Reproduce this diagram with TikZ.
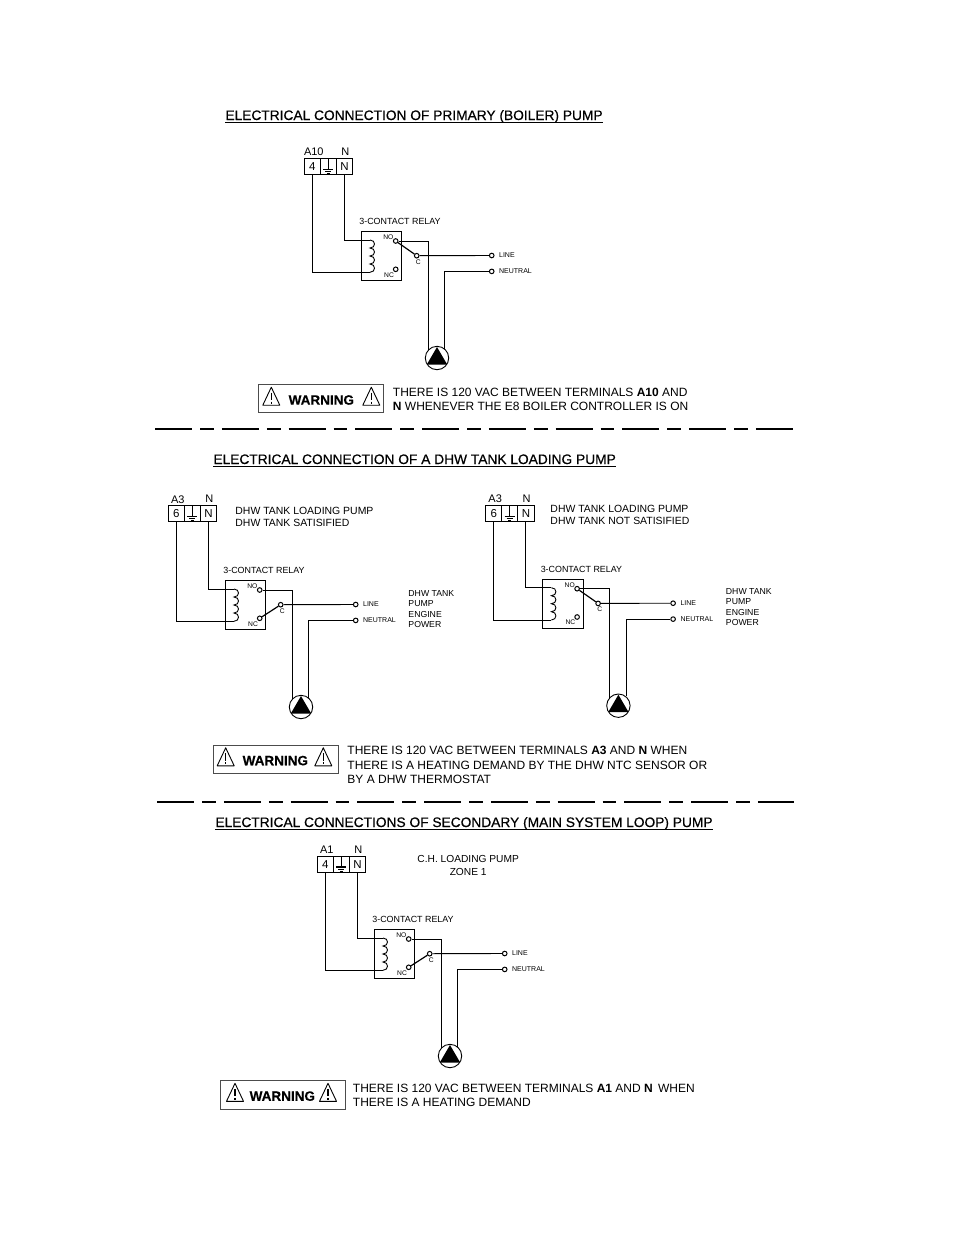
\documentclass[tikz,border=0pt]{standalone}
\usepackage{fontspec}
\setmainfont{Liberation Sans}
\newfontfamily\titlefont[FakeBold=0.5]{Liberation Sans}
\newfontfamily\warnfont[FakeBold=0.4]{Liberation Sans Bold}

\begin{document}
\begin{tikzpicture}[x = 1pt, y = -1pt, line width = 0.9pt,
	txt/.style = {inner sep = 0pt, font = \fontsize{#1}{#1}\selectfont},
	titletext/.style = {anchor = base west, inner sep = 0pt, text depth = 2.2pt, font = \titlefont\fontsize{13.75}{16}\selectfont},
	note/.style = {anchor = west, inner sep = 0pt, align = left, font = \fontsize{12}{14.2}\selectfont},
	side/.style = {anchor = west, inner sep = 0pt, align = #1, font = \fontsize{10.45}{12}\selectfont},
	power/.style = {anchor = west, inner sep = 0pt, align = left, font = \fontsize{8.7}{10.3}\selectfont},
	cell/.style = {draw, minimum height = 16.3pt, inner sep = 0pt, font = \fontsize{11.5}{12}\selectfont},
	relaybox/.style = {draw, minimum width = 40.4pt, minimum height = 49pt, inner sep = 0pt},
	contact/.style = {draw, line width = 1pt, fill = white, circle, inner sep = 0pt, minimum size = 4.6pt},
	pumpbody/.style = {draw, circle, inner sep = 0pt, minimum size = 23.4pt},
	warnbox/.style = {draw, black!70, minimum width = 125pt, minimum height = 28.2pt, inner sep = 0pt},
	cut/.style = {line width = 1.8pt, dash pattern = on 37pt off 8pt on 13.75pt off 8pt}]
	\useasboundingbox (0,0) rectangle (954,1235);

	\node[titletext] (title1) at (225,120) {ELECTRICAL CONNECTION OF PRIMARY (BOILER) PUMP};
	\node[titletext] (title2) at (213,464) {ELECTRICAL CONNECTION OF A DHW TANK LOADING PUMP};
	\node[titletext] (title3) at (215,827) {ELECTRICAL CONNECTIONS OF SECONDARY (MAIN SYSTEM LOOP) PUMP};
	\foreach \nm in {title1, title2, title3}
		\draw (\nm.south west) -- (\nm.south east);

	\coordinate (cut1a) at (155,429);
	\coordinate (cut1b) at (793,429);
	\coordinate (cut2a) at (157,802);
	\coordinate (cut2b) at (794,802);
	\draw[cut] (cut1a) -- (cut1b);
	\draw[cut] (cut2a) -- (cut2b);

	\foreach \nm/\dx/\dy/\tdy/\term/\num/\swpin/\gw in {
		boiler/0/0/0/A10/4/no/0.8, sat/-136/349/-1.7/A3/6/nc/0.8,
		notsat/181.4/347.7/-0.7/A3/6/no/0.8, zone/13/698/0/A1/4/nc/1.5} {
		\begin{scope}[shift = {(\dx,\dy)}, name prefix = \nm-]
			\node[cell, minimum width = 16pt] (t4) at (312.3,166.2+\tdy) {\num};
			\node[cell, minimum width = 16pt] (tg) at (328.3,166.2+\tdy) {};
			\node[cell, minimum width = 16.4pt] (tn) at (344.5,166.2+\tdy) {N};
			\node[txt=11] (tlabel) at (313.8,152+\tdy) {\term};
			\node[txt=11] (nlabel) at (345.3,151.5+\tdy) {N};
			\draw (tg.north) ++(0,1.5) -- ++(0,9.5);
			\draw[line width = \gw pt] (tg.center) ++(-5,3) -- ++(10,0) ++(-8,2.2) -- ++(6,0) ++(-4.5,2) -- ++(3,0);

			\node[relaybox] (relay) at (381.5,255.8) {};
			\node[txt=8.9] (rlabel) at (400,221.7) {3-CONTACT RELAY};
			\coordinate (ctop) at (370,240);
			\coordinate (cbot) at (370,272.3);
			\draw (ctop) .. controls +(6,0) and +(6,0) .. ++(0,8) .. controls +(6,0) and +(6,0) .. ++(0,8) .. controls +(6,0) and +(6,0) .. ++(0,8) .. controls +(6,0) and +(6,0) .. (cbot);
			\draw (t4.south) |- (cbot);
			\draw (tn.south) |- (ctop);

			\node[contact] (no) at (395.7,241) {};
			\node[contact] (nc) at (395.7,269.3) {};
			\node[contact] (c) at (416.7,255.7) {};
			\node[txt=6.7] (nolabel) at (388.3,237.3) {NO};
			\node[txt=6.7] (nclabel) at (389,274.7) {NC};
			\node[txt=6.7] (clabel) at (418.3,261.7) {C};
			\draw[line width = 1.2pt] (c) -- (\swpin);

			\node[contact] (line) at (491.7,255.5) {};
			\node[contact] (neutral) at (491.7,271.4) {};
			\node[txt=7, anchor = west] (linelabel) at (498.7,255.3) {LINE};
			\node[txt=7, anchor = west] (neutrallabel) at (498.7,271.5) {NEUTRAL};
			\draw (c) -- (line);

			\node[pumpbody] (pump) at (437,358) {};
			\coordinate (pa) at (437,347);
			\coordinate (pb) at (447.2,364.5);
			\coordinate (pc) at (426.8,364.5);
			\fill (pa) -- (pb) -- (pc) -- cycle;
			\draw (no) -| (pump.138);
			\draw (neutral) -| (pump.51);
		\end{scope}
	}

	\node[side=left] (sattext) at (235,516.5) {DHW TANK LOADING PUMP\\DHW TANK SATISIFIED};
	\node[side=left] (notsattext) at (550,514.5) {DHW TANK LOADING PUMP\\DHW TANK NOT SATISIFIED};
	\node[side=center, font = \fontsize{10.2}{12.5}\selectfont] (zonetext) at (417,865.5) {C.H. LOADING PUMP\\ZONE 1};
	\node[power] (sattank) at (408,609) {DHW TANK\\PUMP\\ENGINE\\POWER};
	\node[power] (notsattank) at (725.5,607) {DHW TANK\\PUMP\\ENGINE\\POWER};

	\foreach \nm/\bx/\by/\ta/\tb/\tw in {warna/258.3/384.2/13/113/63, warnb/213.3/744.8/12.4/110/62, warnc/220/1080.3/15/108/62.3} {
		\begin{scope}[shift = {(\bx,\by)}, name prefix = \nm-]
			\node[warnbox, anchor = north west] (box) at (0,0) {};
			\node[inner sep = 0pt, font = \warnfont\fontsize{13.5}{14}\selectfont] (word) at (\tw,15.8) {WARNING};
			\foreach \t/\tx in {l/\ta, r/\tb} {
				\coordinate (\t a) at (\tx,3);
				\coordinate (\t b) at (\tx+8.5,21);
				\coordinate (\t c) at (\tx-8.5,21);
				\coordinate (\t d) at (\tx,8.5);
				\coordinate (\t e) at (\tx,16);
				\coordinate (\t f) at (\tx,17.5);
				\coordinate (\t g) at (\tx,19.3);
				\draw[line join = round, line width = 0.9pt] (\t a) -- (\t b) -- (\t c) -- cycle;
				\draw[line width = 1.1pt] (\t d) -- (\t e) (\t f) -- (\t g);
			}
		\end{scope}
	}

	\node[note] (warnatext) at (392.5,399) {THERE IS 120 VAC BETWEEN TERMINALS \textbf{A10} AND\\\textbf{N} WHENEVER THE E8 BOILER CONTROLLER IS ON};
	\node[note] (warnbtext) at (347,765) {THERE IS 120 VAC BETWEEN TERMINALS \textbf{A3} AND \textbf{N} WHEN\\THERE IS A HEATING DEMAND BY THE DHW NTC SENSOR OR\\BY A DHW THERMOSTAT};
	\node[note] (warnctext) at (352.5,1095) {THERE IS 120 VAC BETWEEN TERMINALS \textbf{A1} AND \textbf{N}\, WHEN\\THERE IS A HEATING DEMAND};
\end{tikzpicture}
\end{document}
